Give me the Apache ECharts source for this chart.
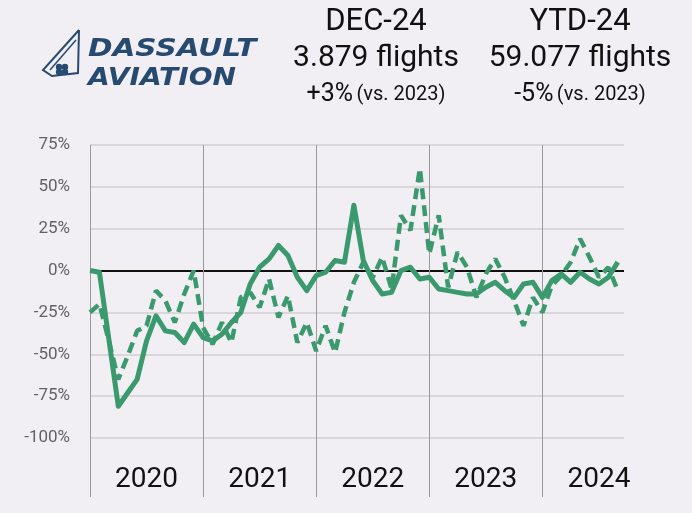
<!DOCTYPE html>
<html>
<head>
<meta charset="utf-8">
<script src="https://cdn.jsdelivr.net/npm/echarts@6/dist/echarts.min.js"></script>
<style>
  html, body { margin: 0; padding: 0; background: #f2eff4; }
  #chart { width: 692px; height: 513px; }
</style>
</head>
<body>
<div id="chart"></div>
<script>
// monthly % change, Jan 2020 .. Sep 2024
const yearLabels = ["2020", "2021", "2022", "2023", "2024"];
const yearStarts = [0, 12, 24, 36, 48];
const yearMiddles = [6, 18, 30, 42, 54];
const yTicks = [-100, -75, -50, -25, 0, 25, 50, 75];

const solidPct = [
  0, -1, -41, -81, -73, -65, -42, -27, -36, -37, -43, -32,
  -40, -42, -38, -31, -25, -8, 2, 7, 15, 9, -4, -12,
  -3, -1, 6, 5, 39, 6, -6, -14, -13, 0, 2, -5,
  -4, -11, -12, -13, -14, -14, -10, -7, -12, -16, -8, -7,
  -16, -6, -2, -7, -1, -5, -8, -4, 5
];
const dashedPct = [
  -25, -20, -42, -65, -51, -36, -33, -12, -18, -31, -14, 0,
  -34, -44, -31, -43, -16, -13, -22, -5, -28, -15, -43, -31,
  -48, -33, -49, -25, -7, 5, -4, 8, -11, 33, 24, 61,
  10, 33, -10, 11, 2, -16, -2, 7, -4, -18, -33, -16,
  -25, -9, -3, 5, 19, 8, -4, 2, -12
];

const green = "#3b9a6d";
const gridGray = "#dad7db";
const font = "Roboto";

const chart = echarts.init(document.getElementById("chart"));

function headerBlock(cx, period, flights, change) {
  return [
    {
      type: "text", x: cx, y: 22,
      style: { text: period, fontSize: 31, fontFamily: font, fill: "#111", textAlign: "center", verticalAlign: "middle" }
    },
    {
      type: "text", x: cx, y: 58,
      style: { text: flights, fontSize: 30, fontFamily: font, fill: "#111", textAlign: "center", verticalAlign: "middle" }
    },
    {
      type: "text", x: cx, y: 95,
      style: {
        text: "{a|" + change + "} {b|(vs. 2023)}",
        textAlign: "center", verticalAlign: "middle",
        rich: {
          a: { fontSize: 25, fontFamily: font, fill: "#111" },
          b: { fontSize: 20, fontFamily: font, fill: "#111" }
        }
      }
    }
  ];
}

const logoBlue = "#274a70";

chart.setOption({
  backgroundColor: "#f2eff4",
  animation: false,
  grid: { left: 90, top: 145, width: 534, height: 293, containLabel: false },
  xAxis: {
    type: "value",
    min: 0,
    max: 56.66,
    interval: 12,
    axisLine: { show: false, onZero: false },
    axisTick: {
      show: true,
      customValues: yearStarts,
      length: 59,
      lineStyle: { color: "#9a9a9a", width: 1 }
    },
    axisLabel: {
      customValues: yearMiddles,
      formatter: (v) => yearLabels[yearMiddles.indexOf(Math.round(v))] || "",
      fontSize: 28,
      fontFamily: font,
      color: "#111",
      margin: 28
    },
    splitLine: {
      show: true,
      lineStyle: { color: "#9a9a9a", width: 1 }
    }
  },
  yAxis: {
    type: "value",
    min: -100,
    max: 75,
    interval: 25,
    axisLine: { show: false },
    axisTick: { show: false },
    axisLabel: {
      formatter: "{value}%",
      fontSize: 17,
      fontFamily: font,
      color: "#626262",
      margin: 20
    },
    splitLine: {
      lineStyle: {
        color: yTicks.map((t) => (t === 0 ? "#111" : gridGray)),
        width: 2
      }
    }
  },
  series: [
    {
      type: "line",
      data: dashedPct.map((v, i) => [i, v]),
      showSymbol: false,
      symbol: "none",
      lineStyle: { color: green, width: 4.5, type: [11, 6] },
      z: 3
    },
    {
      type: "line",
      data: solidPct.map((v, i) => [i, v]),
      showSymbol: false,
      symbol: "none",
      lineStyle: { color: green, width: 5, join: "round" },
      z: 4
    }
  ],
  graphic: [
    // logo
    {
      type: "polyline",
      shape: { points: [[79, 30], [43, 70], [52, 76], [78, 73], [79, 30]] },
      style: { stroke: logoBlue, lineWidth: 2, fill: "none" }
    },
    {
      type: "polyline",
      shape: { points: [[76, 40], [50, 70]] },
      style: { stroke: logoBlue, lineWidth: 1.5, fill: "none" }
    },
    { type: "circle", shape: { cx: 59, cy: 67, r: 3.2 }, style: { fill: logoBlue } },
    { type: "circle", shape: { cx: 65, cy: 67, r: 3.2 }, style: { fill: logoBlue } },
    { type: "circle", shape: { cx: 59, cy: 72, r: 3.2 }, style: { fill: logoBlue } },
    { type: "circle", shape: { cx: 65, cy: 72, r: 3.2 }, style: { fill: logoBlue } },
    {
      type: "text", x: 88, y: 50, scaleX: 1.23,
      style: { text: "DASSAULT", font: "italic bold 24px 'DejaVu Sans'", fill: logoBlue, textAlign: "left", verticalAlign: "middle" }
    },
    {
      type: "text", x: 88, y: 79, scaleX: 1.17,
      style: { text: "AVIATION", font: "italic bold 24px 'DejaVu Sans'", fill: logoBlue, textAlign: "left", verticalAlign: "middle" }
    },
    ...headerBlock(376, "DEC-24", "3.879 flights", "+3%"),
    ...headerBlock(580, "YTD-24", "59.077 flights", "-5%")
  ]
});
</script>
</body>
</html>
